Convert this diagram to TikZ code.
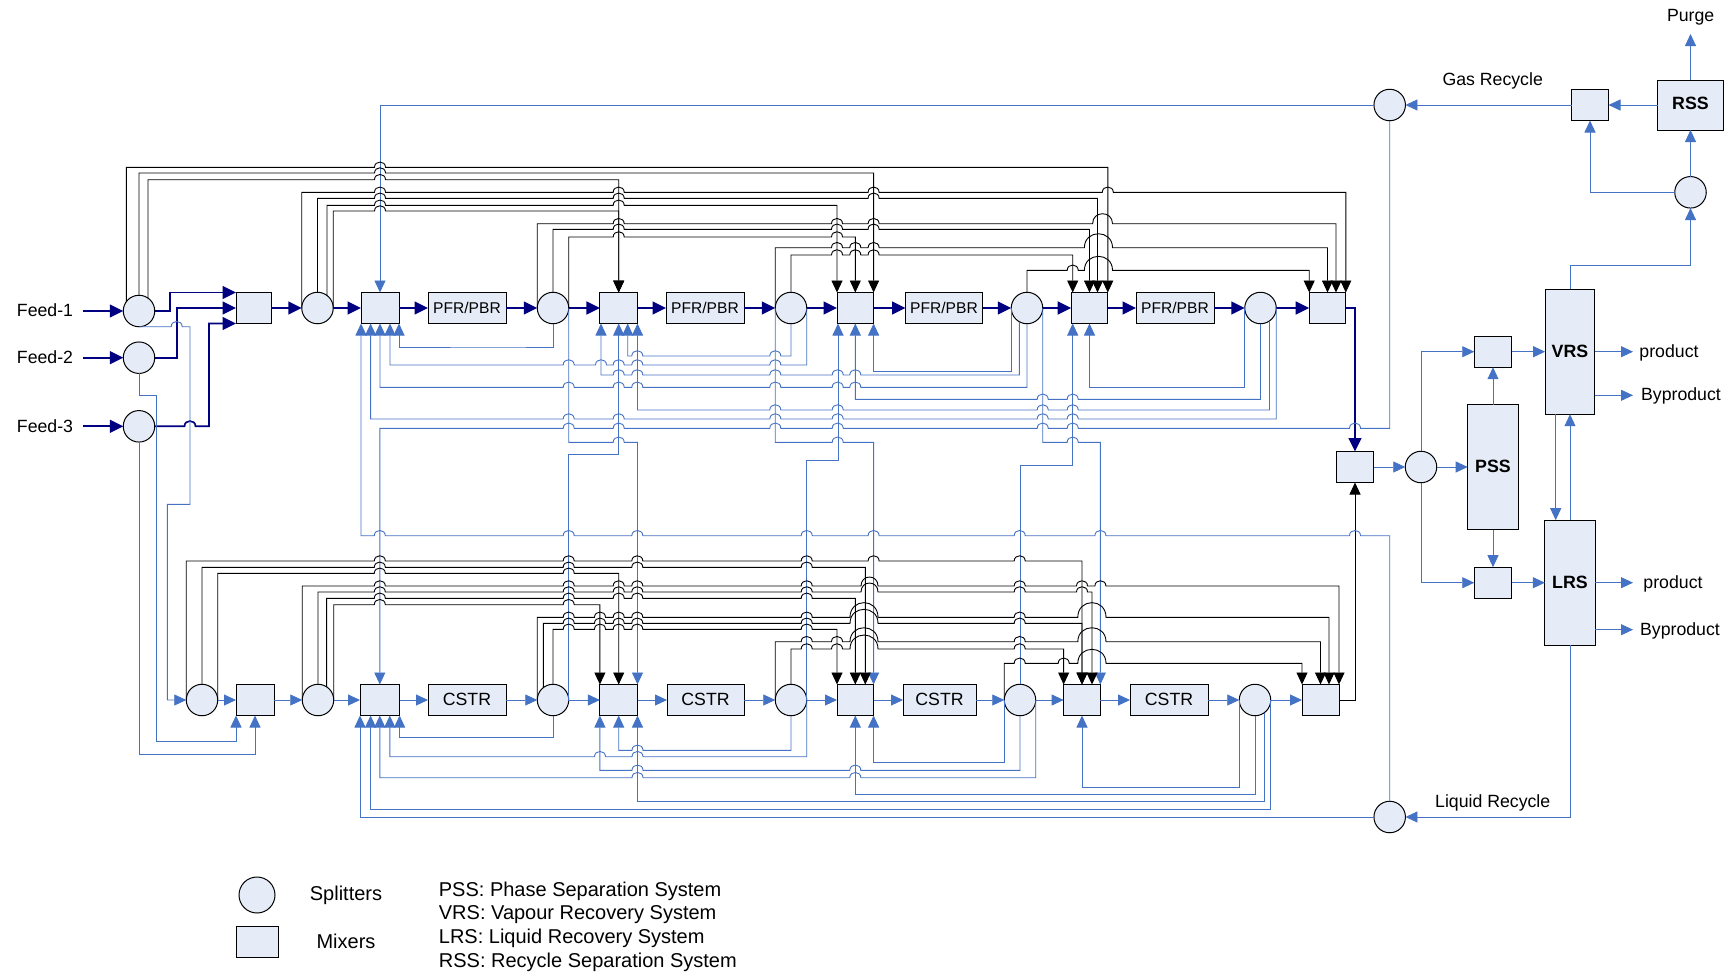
\documentclass[tikz,border=0pt]{standalone}
\usepackage{fontspec}
\setmainfont{Liberation Sans}
\usetikzlibrary{arrows.meta}
\definecolor{boxfill}{RGB}{230,236,247}
\definecolor{flowblue}{RGB}{68,114,196}
\definecolor{flownavy}{RGB}{0,0,128}
\tikzset{
  splitter/.style={circle,draw,fill=boxfill,line width=1pt,minimum size=31.5pt,inner sep=0pt,outer sep=0pt},
  mixer/.style={rectangle,draw,fill=boxfill,line width=1pt,minimum height=31pt,inner sep=0pt,outer sep=0pt},
  reactor/.style={mixer,font=\fontsize{15.6}{18}\selectfont},
  cstr/.style={mixer,font=\fontsize{17.7}{20}\selectfont},
  unit/.style={mixer,font=\fontsize{17.8}{20}\selectfont\bfseries},
  lbl/.style={inner sep=0pt,font=\fontsize{17.7}{20}\selectfont},
  keytext/.style={inner sep=0pt,font=\fontsize{20}{22}\selectfont},
  blu/.style={draw=flowblue,line width=0.9pt},
  blk/.style={draw=black,line width=0.9pt,->},
  nvy/.style={draw=flownavy,line width=1.7pt,->,>={Triangle[length=13.5pt,width=13pt]}}
}
% horizontal run hopping over verticals, always left to right
\newcommand{\hops}[2]{foreach \hx in {#2} {-- (\hx-5.5,#1) .. controls (\hx-5.5,#1-7) and (\hx+5.5,#1-7) .. (\hx+5.5,#1)}}
\newcommand{\overarc}[4]{-- (#1,#3) .. controls (#1,#3-#4*1.33) and (#2,#3-#4*1.33) .. (#2,#3)}
\begin{document}
\begin{tikzpicture}[x=1pt,y=-1pt,>={Triangle[length=12pt,width=11pt]}]
  \useasboundingbox (0,0) rectangle (1733,975);
  % Feed splitters
  \node[splitter] (f1) at (139,311) {};
  \node[splitter] (f2) at (139,357.7) {};
  \node[splitter] (f3) at (139,426.3) {};
  \node[lbl] (feedone) at (45,310) {Feed-1};
  \node[lbl] (feedtwo) at (45,357) {Feed-2};
  \node[lbl] (feedthree) at (45,426) {Feed-3};
  \coordinate (f1in) at (83,311);
  \coordinate (f2in) at (83,357.7);
  \coordinate (f3in) at (83,426.3);
  % Upper train
  \node[mixer,minimum width=35pt] (m0) at (253.5,308) {};
  \node[splitter] (s1) at (317.5,308) {};
  \node[mixer,minimum width=38pt] (m1) at (380,308) {};
  \node[reactor,minimum width=78pt] (r1) at (467,308) {PFR/PBR};
  \node[splitter] (s2) at (553,308) {};
  \node[mixer,minimum width=37.6pt] (m2) at (618.7,308) {};
  \node[reactor,minimum width=78pt] (r2) at (705,308) {PFR/PBR};
  \node[splitter] (s3) at (791,308) {};
  \node[mixer,minimum width=36.6pt] (m3) at (855.3,308) {};
  \node[reactor,minimum width=77pt] (r3) at (944,308) {PFR/PBR};
  \node[splitter] (s4) at (1027,308) {};
  \node[mixer,minimum width=36.6pt] (m4) at (1089.5,308) {};
  \node[reactor,minimum width=78pt] (r4) at (1175,308) {PFR/PBR};
  \node[splitter] (s5) at (1260.5,308) {};
  \node[mixer,minimum width=36.6pt] (m5) at (1327.5,308) {};
  % Lower train
  \node[splitter] (sb0) at (202,700) {};
  \node[mixer,minimum width=38pt] (mb0) at (255,700) {};
  \node[splitter] (sb1) at (318,700) {};
  \node[mixer,minimum width=39.6pt] (mb1) at (379.8,700) {};
  \node[cstr,minimum width=78pt,text depth=2pt] (c1) at (467,700) {CSTR};
  \node[splitter] (sb2) at (553,700) {};
  \node[mixer,minimum width=37.6pt] (mb2) at (618.7,700) {};
  \node[cstr,minimum width=77pt,text depth=2pt] (c2) at (705.5,700) {CSTR};
  \node[splitter] (sb3) at (791,700) {};
  \node[mixer,minimum width=36.6pt] (mb3) at (855.3,700) {};
  \node[cstr,minimum width=73pt,text depth=2pt] (c3) at (939.5,700) {CSTR};
  \node[splitter] (sb4) at (1020,700) {};
  \node[mixer,minimum width=36.7pt] (mb4) at (1082,700) {};
  \node[cstr,minimum width=78pt,text depth=2pt] (c4) at (1169,700) {CSTR};
  \node[splitter] (sb5) at (1255,700) {};
  \node[mixer,minimum width=37pt] (mb5) at (1320.5,700) {};
  % Separation section
  \node[mixer,minimum width=37pt] (mr) at (1355,467) {};
  \node[splitter] (sp) at (1421,467) {};
  \node[unit,minimum width=50.6pt,minimum height=125pt,text depth=2pt] (pss) at (1493,467) {PSS};
  \node[mixer,minimum width=37.5pt] (mv) at (1493,351.7) {};
  \node[mixer,minimum width=37.5pt] (ml) at (1493,582.7) {};
  \node[unit,minimum width=49.7pt,minimum height=125pt] (vrs) at (1570,351.7) {VRS};
  \node[unit,minimum width=50.3pt,minimum height=125pt] (lrs) at (1570,582.7) {LRS};
  \node[unit,minimum width=65.6pt,minimum height=50pt,text depth=4pt] (rss) at (1690.5,105) {RSS};
  \node[splitter] (sr) at (1690.5,192.3) {};
  \node[mixer,minimum width=37pt] (mg) at (1590,105) {};
  \node[splitter] (g) at (1389.7,105) {};
  \node[splitter] (l) at (1389.7,817) {};
  % Right hand labels
  \node[lbl] (purge) at (1690.7,17) {Purge};
  \node[lbl] (gasrec) at (1492.7,81) {Gas Recycle};
  \node[lbl] (liqrec) at (1492.7,802.7) {Liquid Recycle};
  \node[lbl] (prodv) at (1669,353) {product};
  \node[lbl] (byv) at (1681,396) {Byproduct};
  \node[lbl] (prodl) at (1673,584) {product};
  \node[lbl] (byl) at (1680,631.3) {Byproduct};
  % Free ends and extra ports
  \coordinate (purgeout) at (1690.5,34);
  \coordinate (vout) at (1633,351.7);
  \coordinate (vbyin) at (1594.8,395.3);
  \coordinate (vbyout) at (1633,395.3);
  \coordinate (lout) at (1633,582.7);
  \coordinate (lbyin) at (1595.1,629.7);
  \coordinate (lbyout) at (1633,629.7);
  \coordinate (vrsb) at (1555.7,414.2);
  \coordinate (lrst) at (1555.7,520.2);
  \coordinate (m1p2) at (370.6,323.5);
  \coordinate (m1p4) at (390,323.5);
  \coordinate (m2p1) at (601,323.5);
  \coordinate (m2p3) at (627.7,323.5);
  \coordinate (m3p1) at (838,323.5);
  \coordinate (m4p1) at (1072.7,323.5);
  \coordinate (mb1p2) at (370.6,715.5);
  \coordinate (mb1p4) at (389.8,715.5);
  \coordinate (m4t1) at (1072.7,292.5);
  \coordinate (m4t3) at (1097.5,292.5);
  \coordinate (m5t1) at (1309.2,292.5);
  \coordinate (m5t3) at (1336,292.5);
  \coordinate (mb3t3) at (865.3,684.5);
  \coordinate (mb4t3) at (1092,684.5);
  \coordinate (mb5t3) at (1329,684.5);
  % Feeds into the upper train
  \draw[nvy] (f1in) -- (f1);
  \draw[nvy] (f2in) -- (f2);
  \draw[nvy] (f3in) -- (f3);
  \draw[nvy] (f1.east) -- (170,311) |- (m0.north west);
  \draw[nvy] (f2.east) -- (176.7,357.7) |- (m0.west);
  \draw[nvy] (f3.east) \hops{426.3}{190} -- (209,426.3) |- (m0.south west);
  % Upper train flow
  \draw[nvy] (m0) -- (s1);
  \draw[nvy] (s1) -- (m1);
  \draw[nvy] (m1) -- (r1);
  \draw[nvy] (r1) -- (s2);
  \draw[nvy] (s2) -- (m2);
  \draw[nvy] (m2) -- (r2);
  \draw[nvy] (r2) -- (s3);
  \draw[nvy] (s3) -- (m3);
  \draw[nvy] (m3) -- (r3);
  \draw[nvy] (r3) -- (s4);
  \draw[nvy] (s4) -- (m4);
  \draw[nvy] (m4) -- (r4);
  \draw[nvy] (r4) -- (s5);
  \draw[nvy] (s5) -- (m5);
  \draw[nvy] (m5.east) -| (mr.north);
  % Lower train flow
  \draw[blu,->] (sb0) -- (mb0);
  \draw[blu,->] (mb0) -- (sb1);
  \draw[blu,->] (sb1) -- (mb1);
  \draw[blu,->] (mb1) -- (c1);
  \draw[blu,->] (c1) -- (sb2);
  \draw[blu,->] (sb2) -- (mb2);
  \draw[blu,->] (mb2) -- (c2);
  \draw[blu,->] (c2) -- (sb3);
  \draw[blu,->] (sb3) -- (mb3);
  \draw[blu,->] (mb3) -- (c3);
  \draw[blu,->] (c3) -- (sb4);
  \draw[blu,->] (sb4) -- (mb4);
  \draw[blu,->] (mb4) -- (c4);
  \draw[blu,->] (c4) -- (sb5);
  \draw[blu,->] (sb5) -- (mb5);
  \draw[blk] (mb5.east) -| (mr.south);
  % Feed bypasses to the lower train
  \draw[blu,->] (f1.south) \hops{326.7}{176.7} -- (190,326.7) |- (167.3,504.3) |- (sb0.west);
  \draw[blu,->] (f2.south) |- (156.7,395.7) |- (200,741) -| (mb0.south west);
  \draw[blu,->] (f3.south) |- (200,754.7) -| (mb0.south);
  % Upper train recycles
  \draw[blu,<-] (m1.south east) |- (500,347) -| (s2.south);
  \draw[blu,<-] (m1p4) |- (560,365) \hops{365}{568.7,601,618.7,637.3,775.3} -| (s3.east);
  \draw[blu,<-] (m1.south) |- (560,387.3) \hops{387.3}{568.7,618.7,637.3,775.3,837.7,855.3} -| (s4.south);
  \draw[blu,<-] (m1p2) |- (560,419) \hops{419}{568.7,618.7,775.3,837.7,1042.7,1072.7} -| (s5.east);
  \draw[blu,<-] (m2p1) |- (610,375) \hops{375}{618.7,637.3,775.3,837.7,855.3} -| (s4.241);
  \draw[blu,<-] (m2p3) |- (632,356) \hops{356}{637.3,775.3} -| (s3.south);
  \draw[blu,<-] (m2.south) |- (568.7,454.3) |- (sb2.east);
  \draw[blu,<-] (m2.south east) |- (660,410) \hops{410}{775.3,837.7,1042.7,1072.7} -| (s5.305);
  \draw[blu,<-] (m3p1) |- (820,460.7) -| (sb3.east);
  \draw[blu,<-] (m3.south) |- (900,399.3) \hops{399.3}{1042.7,1072.7} -| (s5.south);
  \draw[blu,<-] (m3.south east) |- (950,371.7) -| (s4.west);
  \draw[blu,<-] (m4.south) |- (1100,387.3) -| (s5.west);
  \draw[blu,<-] (m4p1) |- (1050,465.3) -| (sb4.north);
  % Upper splitters down to the lower mixers
  \draw[blu,->] (s2.east) |- (600,442.3) \hops{442.3}{618.7} -| (mb2.north east);
  \draw[blu,->] (s3.west) |- (800,442.3) \hops{442.3}{837.7} -| (mb3.north east);
  \draw[blu,->] (s4.east) |- (1060,442.3) \hops{442.3}{1072.7} -| (mb4.north east);
  % Gas and liquid recycle
  \draw[blu,->] (g.west) -| (m1.north);
  \draw[blu,<-] (mb1.north) |- (560,428.3) \hops{428.3}{568.7,618.7,775.3,837.7,1042.7,1072.7,1355} -| (g.south);
  \draw[blu,<-] (m1.south west) |- (370,535.7) \hops{535.7}{379.8,568.7,637.3,806.7,873.6,1019.7,1100.4,1355} -| (l.north);
  \draw[blu,<-] (mb1.south west) |- (l.west);
  % Lower train recycles
  \draw[blu,<-] (mb1.south east) |- (500,737) -| (sb2.south);
  \draw[blu,<-] (mb1p4) |- (560,756.7) \hops{756.7}{600,637.5} -| (sb3.east);
  \draw[blu,<-] (mb1.south) |- (560,777.7) \hops{777.7}{637.5,855.3} -| (sb4.east);
  \draw[blu,<-] (mb1p2) |- (560,809) -| (sb5.east);
  \draw[blu,<-] (mb2.south) |- (630,750.3) \hops{750.3}{637.5} -| (sb3.south);
  \draw[blu,<-] (mb2.south west) |- (620,770.3) \hops{770.3}{637.5,855.3} -| (sb4.south);
  \draw[blu,<-] (mb2.south east) |- (700,801) -| (sb5.305);
  \draw[blu,<-] (mb3.south east) |- (900,762.3) -| (sb4.west);
  \draw[blu,<-] (mb3.south) |- (900,794.3) -| (sb5.south);
  \draw[blu,<-] (mb4.south) |- (1100,787) -| (sb5.west);
  % Upper train bypasses
  \draw[blk] (f1.143) |- (300,167.3) \hops{167.3}{380} -| (m4.north east);
  \draw[blk] (f1.north) |- (300,173) \hops{173}{380} -| (m3.north east);
  \draw[blk] (f1.55) |- (300,179.7) \hops{179.7}{380} -| (m2.north);
  \draw[blk] (s1.west) |- (350,192.3) \hops{192.3}{380,618.7,873.6,1107.8} -| (m5.north east);
  \draw[blk] (s1.north) |- (350,198.3) \hops{198.3}{380,618.7,873.6} -| (m4t3);
  \draw[blk] (s1.53) |- (350,205.3) \hops{205.3}{380,618.7} -| (m3.north west);
  \draw[blk] (s1.east) |- (350,211) \hops{211}{380} -| (m2.north);
  \draw[blk] (s2.west) |- (600,223.7) \hops{223.7}{618.7,837,873.6} \overarc{1092.6}{1112.5}{223.7}{10} -| (m5t3);
  \draw[blk] (s2.north) |- (600,229.3) \hops{229.3}{618.7,837,873.6} -| (m4.north);
  \draw[blk] (s2.east) |- (600,237) \hops{237}{618.7,837} -| (m3.north);
  \draw[blk] (s3.west) |- (820,247.7) \hops{247.7}{837,855.3,873.6} \overarc{1084.4}{1112.5}{247.7}{14} -| (m5.north);
  \draw[blk] (s3.north) |- (820,255) \hops{255}{837,855.3,873.6} -| (m4t1);
  \draw[blk] (s4.north) |- (1050,270.3) \hops{270.3}{1072.7} \overarc{1084.4}{1112.5}{270.3}{14} -| (m5t1);
  % Lower train bypasses
  \draw[blk] (sb0.west) |- (350,561) \hops{561}{379.8,568.7,637.3,806.7,873.6,1019.7} -| (mb4.north);
  \draw[blk] (sb0.north) |- (350,567.3) \hops{567.3}{379.8,568.7,637.3,806.7} -| (mb3t3);
  \draw[blk] (sb0.east) |- (350,573.3) \hops{573.3}{379.8,568.7} -| (mb2.north);
  \draw[blk] (sb1.west) |- (350,586) \hops{586}{379.8,568.7,618.7,637.3,806.7} \overarc{861}{878}{586}{9} \hops{586}{1019.7,1082,1100.4} -| (mb5.north east);
  \draw[blk] (sb1.north) |- (350,592) \hops{592}{379.8,568.7,618.7,637.3,806.7} \overarc{861}{878}{592}{9} \hops{592}{1019.7,1082} -| (mb4t3);
  \draw[blk] (sb1.57) |- (350,598.3) \hops{598.3}{379.8,568.7,618.7,637.3,806.7} -| (mb3.north);
  \draw[blk] (sb1.east) |- (350,604.7) \hops{604.7}{379.8,568.7} -| (mb2.north west);
  \draw[blk] (sb2.west) |- (555,617.3) \hops{617.3}{568.7,600,618.7,637.3,806.7} \overarc{850}{878}{617.3}{14.7} \hops{617.3}{1019.7} \overarc{1077.8}{1106}{617.3}{14.7} -| (mb5t3);
  \draw[blk] (sb2.128) |- (555,623.3) \hops{623.3}{568.7,600,618.7,637.3,806.7} \overarc{850}{878}{623.3}{14} \hops{623.3}{1019.7} -| (mb4.north);
  \draw[blk] (sb2.north) |- (555,629.3) \hops{629.3}{568.7,600,618.7,637.3,806.7} -| (mb3.north west);
  \draw[blk] (sb3.west) |- (795,641.7) \hops{641.7}{806.7,837} \overarc{850}{878}{641.7}{14} \hops{641.7}{1019.7} \overarc{1077.8}{1106}{641.7}{14} -| (mb5.north);
  \draw[blk] (sb3.north) |- (795,649) \hops{649}{806.7,837} \overarc{850}{878}{649}{14} \hops{649}{1019.7} -| (mb4.north west);
  \draw[blk] (sb4.west) |- (1010,663.3) \hops{663.3}{1019.7,1063.7} \overarc{1077.8}{1106}{663.3}{14} -| (mb5.north west);
  % Separation section flows
  \draw[blu,->] (mr) -- (sp);
  \draw[blu,->] (sp) -- (pss);
  \draw[blu,->] (sp.north) |- (mv.west);
  \draw[blu,->] (sp.south) |- (ml.west);
  \draw[blu,->] (pss.north) -- (mv.south);
  \draw[blu,->] (pss.south) -- (ml.north);
  \draw[blu,->] (mv) -- (vrs);
  \draw[blu,->] (ml) -- (lrs);
  \draw[blu,->] (vrs.east) -- (vout);
  \draw[blu,->] (vbyin) -- (vbyout);
  \draw[blu,->] (lrs.east) -- (lout);
  \draw[blu,->] (lbyin) -- (lbyout);
  \draw[blu,->] (vrsb) -- (lrst);
  \draw[blu,->] (lrs.north) -- (vrs.south);
  \draw[blu,->] (vrs.north) |- (1650,265.7) -| (sr.south);
  \draw[blu,->] (sr.north) -- (rss.south);
  \draw[blu,->] (sr.west) -| (mg.south);
  \draw[blu,->] (rss.west) -- (mg.east);
  \draw[blu,->] (rss.north) -- (purgeout);
  \draw[blu,->] (mg.west) -- (g.east);
  \draw[blu,->] (lrs.south) |- (l.east);
  % Legend
  \node[splitter,minimum size=36pt] (keys) at (257,895) {};
  \node[mixer,minimum width=42pt] (keym) at (257.5,941.7) {};
  \node[keytext] (keyst) at (346,895) {Splitters};
  \node[keytext] (keymt) at (346,941) {Mixers};
  \node[keytext,anchor=west] (keypss) at (438.7,891) {PSS: Phase Separation System};
  \node[keytext,anchor=west] (keyvrs) at (438.7,915) {VRS: Vapour Recovery System};
  \node[keytext,anchor=west] (keylrs) at (438.7,938) {LRS: Liquid Recovery System};
  \node[keytext,anchor=west] (keyrss) at (438.7,962) {RSS: Recycle Separation System};
\end{tikzpicture}
\end{document}
